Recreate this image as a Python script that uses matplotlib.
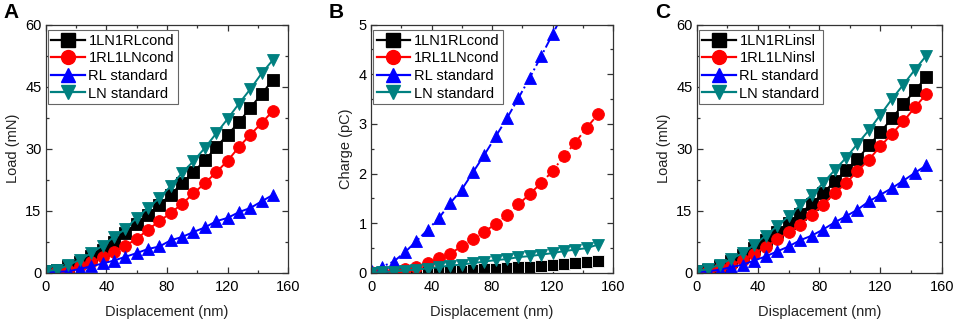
import matplotlib
matplotlib.use("Agg")
import matplotlib.pyplot as plt
from matplotlib.lines import Line2D
from matplotlib.ticker import MultipleLocator

plt.rcParams['font.family'] = ['Liberation Sans', 'DejaVu Sans']

displacement = [0, 7.5, 15, 22.5, 30, 37.5, 45, 52.5, 60, 67.5, 75, 82.5, 90,
                97.5, 105, 112.5, 120, 127.5, 135, 142.5, 150]

# Panel A: load (mN)
a_1ln1rl = [0.4, 0.8, 1.6, 2.7, 4.0, 5.6, 7.6, 9.7, 11.9, 14.1, 16.5, 18.9, 21.7,
            24.4, 27.2, 30.4, 33.4, 36.4, 39.9, 43.2, 46.7]
a_1rl1ln = [0.2, 0.4, 0.8, 1.6, 2.6, 3.8, 5.1, 6.6, 8.2, 10.5, 12.5, 14.5, 16.7,
            19.2, 21.7, 24.3, 27.1, 30.4, 33.4, 36.2, 39.2]
a_rl = [0.2, 0.3, 0.4, 1.0, 1.6, 2.3, 3.0, 3.9, 4.8, 5.8, 6.4, 7.9, 8.7,
        9.9, 11.0, 12.5, 13.3, 14.7, 15.7, 17.3, 18.9]
a_ln = [0.4, 0.8, 1.9, 3.2, 4.8, 6.6, 8.7, 10.6, 13.3, 15.7, 18.1, 21.0, 24.2,
        27.0, 30.2, 33.7, 37.2, 40.9, 44.4, 48.2, 51.5]

# Panel B: charge (pC)
b_1ln1rl = [0.0, 0.01, 0.01, 0.02, 0.02, 0.03, 0.03, 0.05, 0.05, 0.07, 0.08, 0.09, 0.10,
            0.12, 0.13, 0.15, 0.17, 0.19, 0.20, 0.22, 0.25]
b_1rl1ln = [0.03, 0.03, 0.05, 0.08, 0.13, 0.20, 0.30, 0.39, 0.54, 0.68, 0.83, 0.99, 1.17,
            1.38, 1.59, 1.81, 2.05, 2.35, 2.62, 2.92, 3.19]
b_rl = [0.07, 0.13, 0.23, 0.42, 0.64, 0.87, 1.11, 1.41, 1.68, 2.03, 2.38, 2.75, 3.12,
        3.52, 3.93, 4.36, 4.80, 5.25, 5.70, 6.15, 6.60]
b_ln = [0.01, 0.02, 0.03, 0.05, 0.07, 0.09, 0.12, 0.15, 0.17, 0.20, 0.23, 0.26, 0.28,
        0.32, 0.34, 0.37, 0.40, 0.44, 0.47, 0.50, 0.57]

# Panel C: load (mN)
c_1ln1rl = [0.4, 0.8, 1.6, 2.8, 4.3, 6.0, 7.9, 9.9, 12.1, 14.3, 16.7, 19.3, 22.1,
            24.8, 27.5, 30.8, 34.0, 37.4, 40.7, 44.1, 47.3]
c_1rl1ln = [0.2, 0.6, 1.2, 2.0, 3.2, 4.7, 6.3, 8.1, 9.9, 11.7, 14.1, 16.5, 19.2,
            21.7, 24.6, 27.4, 30.6, 33.6, 36.6, 40.0, 43.2]
c_rl = [0.2, 0.4, 0.8, 1.4, 2.0, 3.0, 4.0, 5.2, 6.4, 7.9, 9.0, 10.5, 12.2,
        13.7, 15.3, 17.3, 18.9, 20.5, 22.3, 24.2, 26.0]
c_ln = [0.4, 1.0, 2.0, 3.4, 4.8, 6.8, 9.0, 11.3, 13.7, 16.3, 18.8, 21.7, 24.8,
        27.8, 31.2, 34.5, 38.2, 42.0, 45.5, 49.1, 52.5]

labels_ab = ['1LN1RLcond', '1RL1LNcond', 'RL standard', 'LN standard']
labels_c = ['1LN1RLinsl', '1RL1LNinsl', 'RL standard', 'LN standard']

colors = ['black', '#ff0000', '#0000ff', '#008080']
markers = ['s', 'o', '^', 'v']
ms = 8.5

fig = plt.figure(figsize=(9.55, 3.21), dpi=100)

ax_positions = [
    [45.7 / 955, 1 - 273 / 321, 242.5 / 955, 248.5 / 321],
    [371 / 955, 1 - 273 / 321, 242 / 955, 248.5 / 321],
    [696.7 / 955, 1 - 273 / 321, 245 / 955, 248.5 / 321],
]

panels = [
    ([a_1ln1rl, a_1rl1ln, a_rl, a_ln], labels_ab, 'Load (mN)', 60, 15, 7.5, 'A'),
    ([b_1ln1rl, b_1rl1ln, b_rl, b_ln], labels_ab, 'Charge (pC)', 5, 1, 0.5, 'B'),
    ([c_1ln1rl, c_1rl1ln, c_rl, c_ln], labels_c, 'Load (mN)', 60, 15, 7.5, 'C'),
]

for pos, (series, labels, ylab, ymax, ymaj, ymin, letter) in zip(ax_positions, panels):
    ax = fig.add_axes(pos)
    for i, (vals, lab) in enumerate(zip(series, labels)):
        if letter == 'B':
            mec = 'white' if i == 0 else colors[i]
            lstyle = '-.' if i in (1, 2) else '-'
        else:
            mec = colors[i]
            lstyle = '-'
        ax.plot(displacement, vals, color=colors[i], marker=markers[i],
                markersize=ms, markeredgecolor=mec, markeredgewidth=0.6,
                linestyle=lstyle, linewidth=1.4, label=lab, clip_on=True)
    ax.set_xlim(0, 160)
    ax.set_ylim(0, ymax)
    ax.xaxis.set_major_locator(MultipleLocator(40))
    ax.xaxis.set_minor_locator(MultipleLocator(20))
    ax.yaxis.set_major_locator(MultipleLocator(ymaj))
    ax.yaxis.set_minor_locator(MultipleLocator(ymin))
    ax.tick_params(which='both', direction='in', top=True, right=True,
                   labelsize=10.5, width=0.9, color='#333333')
    ax.tick_params(axis='x', which='major', length=4, pad=5)
    ax.tick_params(axis='y', which='major', length=4, pad=3)
    ax.tick_params(which='minor', length=2.5)
    for s in ax.spines.values():
        s.set_linewidth(0.9)
        s.set_color('#333333')
    ax.set_xlabel('Displacement (nm)', fontsize=10.5, labelpad=8, color='#222222')
    ax.set_ylabel(ylab, fontsize=10.5, labelpad=4, color='#222222')
    handles = [Line2D([], [], color=colors[i], marker=markers[i], markersize=10,
                      linewidth=1.6) for i in range(4)]
    leg = ax.legend(handles, labels, loc='upper left', fontsize=10.5,
                    bbox_to_anchor=(0.008, 0.978),
                    handlelength=2.3, handletextpad=0.25, labelspacing=0.25,
                    borderpad=0.25, borderaxespad=0.0, fancybox=False,
                    framealpha=1)
    leg.get_frame().set_edgecolor('#666666')
    leg.get_frame().set_linewidth(0.8)
    fig.text(pos[0] - 42 / 955, 0.99, letter, fontsize=15, fontweight='bold',
             va='top', ha='left')

fig.savefig('out.png', dpi=100)
